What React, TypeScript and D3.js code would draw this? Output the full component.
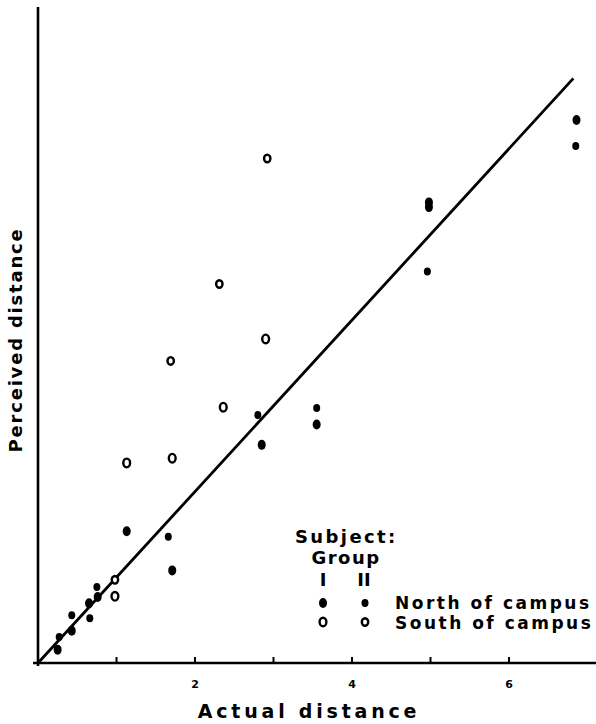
import React from "react";
import * as d3 from "d3";

// Group I, north of campus (large filled)
const northI: [number, number][] = [
  [0.25, 0.17], [0.43, 0.41], [0.65, 0.76], [0.76, 0.84], [1.13, 1.68],
  [1.71, 1.18], [2.85, 2.78], [3.55, 3.04], [4.98, 5.87], [4.98, 5.81], [6.86, 6.92],
];
// Group II, north of campus (small filled)
const northII: [number, number][] = [
  [0.27, 0.33], [0.43, 0.61], [0.66, 0.57], [0.75, 0.97], [1.66, 1.61],
  [2.8, 3.16], [3.55, 3.25], [4.96, 4.99], [6.85, 6.59],
];
// Group I, south of campus (large open)
const southI: [number, number][] = [
  [1.13, 2.55], [1.71, 2.61], [2.36, 3.26], [2.9, 4.13], [0.98, 0.85],
];
// Group II, south of campus (small open)
const southII: [number, number][] = [
  [2.92, 6.43], [2.31, 4.83], [1.69, 3.85], [0.98, 1.06],
];
// fitted line endpoints
const fitLine: [number, number][] = [[0, 0], [6.82, 7.45]];
const xTicks = [1, 2, 3, 4, 5, 6];
const xTickLabels = [2, 4, 6];

const W = 596;
const H = 724;
const FONT = "'DejaVu Sans', sans-serif";

export default function App() {
  const x = d3.scaleLinear().domain([0, 7]).range([38, 38 + 7 * 78.5]);
  const y = d3.scaleLinear().domain([0, 8.36]).range([663, 7]);
  const line = d3.line<[number, number]>().x((d) => x(d[0])).y((d) => y(d[1]));

  const filled = (pts: [number, number][], rx: number, ry: number, key: string) =>
    pts.map((d, i) => (
      <ellipse key={key + i} cx={x(d[0])} cy={y(d[1])} rx={rx} ry={ry} fill="#000" />
    ));
  const open = (pts: [number, number][], rx: number, ry: number, key: string) =>
    pts.map((d, i) => (
      <ellipse key={key + i} cx={x(d[0])} cy={y(d[1])} rx={rx} ry={ry} fill="#fff" stroke="#000" strokeWidth={2.4} />
    ));

  return (
    <svg width={W} height={H} style={{ position: "absolute", left: 0, top: 0, background: "#fff" }}>
      <rect x={0} y={0} width={W} height={H} fill="#fff" />
      {/* axes */}
      <line x1={x(0)} y1={7} x2={x(0)} y2={666} stroke="#000" strokeWidth={2.6} />
      <line x1={33} y1={y(0)} x2={W} y2={y(0)} stroke="#000" strokeWidth={2.6} />
      {xTicks.map((t) => (
        <line key={"t" + t} x1={x(t)} x2={x(t)} y1={y(0)} y2={y(0) - 6} stroke="#000" strokeWidth={2} />
      ))}
      {xTickLabels.map((t) => (
        <text key={"l" + t} x={x(t)} y={688} textAnchor="middle" fontFamily={FONT} fontWeight="bold" fontSize={11}>
          {t}
        </text>
      ))}
      <text x={309} y={718} textAnchor="middle" fontFamily={FONT} fontWeight="bold" fontSize={19} letterSpacing={3.8}>
        Actual distance
      </text>
      <text
        transform="translate(22,340) rotate(-90)"
        textAnchor="middle"
        fontFamily={FONT}
        fontWeight="bold"
        fontSize={18}
        letterSpacing={1.8}
      >
        Perceived distance
      </text>
      {/* fit line */}
      <path d={line(fitLine) || ""} fill="none" stroke="#000" strokeWidth={2.8} />
      {/* points */}
      {filled(northI, 4, 5, "nI")}
      {filled(northII, 3.5, 4, "nII")}
      {open(southI, 3.4, 4.3, "sI")}
      {open(southII, 3.2, 3.8, "sII")}
      {/* legend */}
      <g fontFamily={FONT} fontWeight="bold" fontSize={18}>
        <text x={295} y={543} letterSpacing={2.4}>Subject:</text>
        <text x={346} y={564} textAnchor="middle" letterSpacing={1.5}>Group</text>
        <text x={323} y={586} textAnchor="middle">I</text>
        <text x={364} y={586} textAnchor="middle">II</text>
        <ellipse cx={323} cy={603} rx={4} ry={5} fill="#000" />
        <ellipse cx={365} cy={603} rx={3.5} ry={4} fill="#000" />
        <ellipse cx={323} cy={622} rx={3.4} ry={4.3} fill="#fff" stroke="#000" strokeWidth={2.4} />
        <ellipse cx={365} cy={622} rx={3.2} ry={3.8} fill="#fff" stroke="#000" strokeWidth={2.4} />
        <text x={395} y={609} fontSize={17} letterSpacing={2.5}>North of campus</text>
        <text x={395} y={629} fontSize={17} letterSpacing={2.5}>South of campus</text>
      </g>
    </svg>
  );
}
